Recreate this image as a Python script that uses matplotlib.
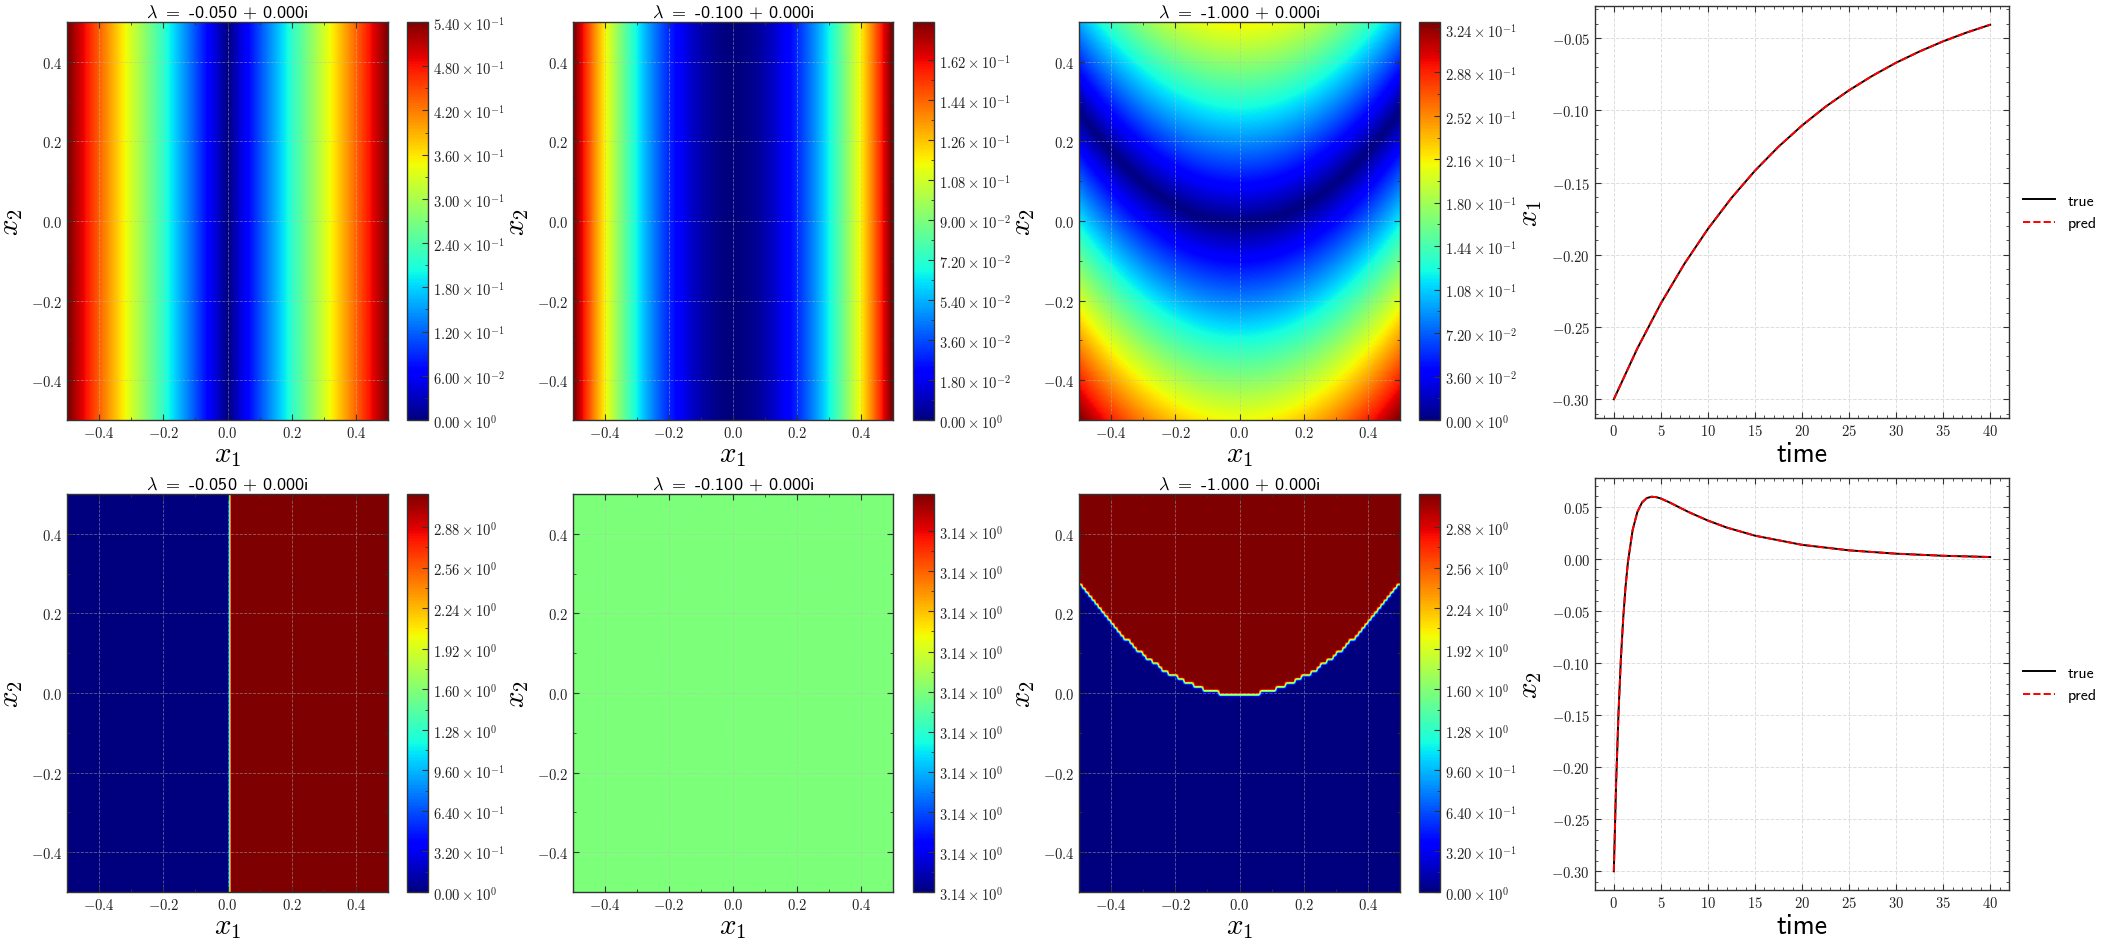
import numpy as np
import matplotlib
matplotlib.use("Agg")
import matplotlib.pyplot as plt
from matplotlib.ticker import FuncFormatter, MultipleLocator, AutoMinorLocator, FixedLocator

plt.rcParams['font.family'] = ['cmss10', 'DejaVu Sans']
plt.rcParams['mathtext.fontset'] = 'cm'
plt.rcParams['axes.unicode_minus'] = False

# --------------------------
# Data
# --------------------------
eig_re = [-0.05, -0.10, -1.00]
eig_im = [0.0, 0.0, 0.0]

# eigenfunction amplitudes: phi1 = a1*x1, phi2 = a2*x1^2, phi3 = a3*(x2 - b*x1^2 + c0)
phi_amp = [-1.08, -0.716, -0.424]
parab_b = 1.11
parab_c0 = 0.004

# colorbar ranges / tick steps
mag_vmax = [0.54, 0.179, 0.3297]
mag_step = [0.06, 0.018, 0.036]
phase_step = [0.32, 1e-7, 0.32]

# trajectory, true vs predicted
t_x1 = [0, 2.5, 5, 7.5, 10, 12.5, 15, 17.5, 20, 22.5, 25, 27.5, 30, 32.5, 35, 37.5, 40]
x1_true = [-0.300, -0.2648, -0.2336, -0.2062, -0.1820, -0.1606, -0.1417, -0.1251, -0.1104,
           -0.0974, -0.0860, -0.0759, -0.0669, -0.0591, -0.0521, -0.0460, -0.0406]
x1_pred = x1_true

t_x2 = [0, 0.25, 0.5, 0.75, 1, 1.25, 1.5, 2, 2.5, 3, 3.5, 4, 4.5, 5, 6, 7, 8, 10, 12, 15,
        20, 25, 30, 35, 40]
x2_true = [-0.300, -0.2140, -0.1475, -0.0962, -0.0567, -0.0264, -0.0032, 0.0277, 0.0450,
           0.0542, 0.0584, 0.0597, 0.0593, 0.0580, 0.0539, 0.0493, 0.0448, 0.0368, 0.0301,
           0.0223, 0.0135, 0.0082, 0.0050, 0.0030, 0.0018]
x2_pred = x2_true

# --------------------------
# Grid + eigenfunctions
# --------------------------
g = np.linspace(-0.5, 0.5, 101)
X1, X2 = np.meshgrid(g, g)
phis = [phi_amp[0] * X1,
        phi_amp[1] * X1 ** 2,
        phi_amp[2] * (X2 - parab_b * X1 ** 2 + parab_c0)]

W, H = 2104, 945
fig = plt.figure(figsize=(W / 100, H / 100), dpi=100)


def rect(x0, y0, x1, y1):
    return [x0 / W, 1 - y1 / H, (x1 - x0) / W, (y1 - y0) / H]


hm_x = [(67, 388), (573, 893), (1079, 1400)]
cb_x = [(407, 428), (913, 934), (1419, 1440)]
row_y = [(23, 421), (495, 893)]
ts_x = (1595, 2009)
ts_y = [(7, 419), (479, 891)]

SPINE = '#333333'


def mathfmt(fmt):
    def f(v, p):
        if abs(v) < 1e-12:
            v = 0.0
        return "$" + (fmt % v) + "$"
    return FuncFormatter(f)


def sci(v, p):
    if abs(v) < 1e-15:
        return r"$0.00\times10^{0}$"
    e = int(np.floor(np.log10(abs(v))))
    m = v / 10 ** e
    return r"$%.2f\times10^{%d}$" % (m, e)


def style_axes(ax):
    for s in ax.spines.values():
        s.set_color(SPINE)
        s.set_linewidth(1.0)
    ax.tick_params(which='both', direction='in', top=True, right=True, colors=SPINE,
                   labelcolor='#222222', labelsize=10.5)
    ax.tick_params(which='major', length=4, width=0.8)
    ax.tick_params(which='minor', length=2, width=0.6)


for r in range(2):
    for c in range(3):
        ax = fig.add_axes(rect(hm_x[c][0], row_y[r][0], hm_x[c][1], row_y[r][1]))
        if r == 0:
            data = np.abs(phis[c])
            vmin, vmax = 0.0, mag_vmax[c]
            ticks = np.arange(0, vmax + 1e-9, mag_step[c])
        else:
            data = np.angle(phis[c] + 0j)
            if c == 1:
                data = np.full_like(X1, np.pi)
                vmin = np.pi - 4.965 * phase_step[c]
                vmax = np.pi + 4.965 * phase_step[c]
                ticks = vmin + phase_step[c] * np.arange(10)
            else:
                vmin, vmax = 0.0, np.pi
                ticks = np.arange(0, vmax, phase_step[c])
        im = ax.imshow(data, extent=[-0.5, 0.5, -0.5, 0.5], origin='lower', aspect='auto',
                       cmap='jet', vmin=vmin, vmax=vmax, interpolation='bilinear')
        style_axes(ax)
        ax.set_xticks([-0.4, -0.2, 0.0, 0.2, 0.4])
        ax.set_yticks([-0.4, -0.2, 0.0, 0.2, 0.4])
        ax.xaxis.set_minor_locator(MultipleLocator(0.1))
        ax.yaxis.set_minor_locator(MultipleLocator(0.1))
        ax.xaxis.set_major_formatter(mathfmt("%.1f"))
        ax.yaxis.set_major_formatter(mathfmt("%.1f"))
        ax.grid(True, which='major', color='#bbbbbb', linestyle='--', linewidth=0.6, alpha=0.5)
        ax.set_xlabel(r"$x_1$", fontsize=21, labelpad=1)
        ax.set_ylabel(r"$x_2$", fontsize=21, labelpad=4)
        ax.set_title(r"$\lambda$ $=$ %.3f $+$ %.3fi" % (eig_re[c], eig_im[c]), fontsize=13, pad=4)

        cax = fig.add_axes(rect(cb_x[c][0], row_y[r][0], cb_x[c][1], row_y[r][1]))
        cb = fig.colorbar(im, cax=cax)
        cb.outline.set_edgecolor(SPINE)
        cb.outline.set_linewidth(1.0)
        cb.set_ticks(ticks)
        cb.ax.yaxis.set_major_formatter(FuncFormatter(sci))
        step = ticks[1] - ticks[0]
        cb.ax.yaxis.set_minor_locator(FixedLocator(ticks + step / 2))
        cb.ax.tick_params(which='both', direction='in', colors=SPINE, labelcolor='#222222',
                          labelsize=10.5)
        cb.ax.tick_params(which='major', length=4, width=0.8)
        cb.ax.tick_params(which='minor', length=2, width=0.6)

# --------------------------
# Trajectories
# --------------------------
series = [(t_x1, x1_true, x1_pred, r"$x_1$"), (t_x2, x2_true, x2_pred, r"$x_2$")]
for r, (t, yt, yp, lab) in enumerate(series):
    ax = fig.add_axes(rect(ts_x[0], ts_y[r][0], ts_x[1], ts_y[r][1]))
    ax.plot(t, yt, color='black', linewidth=1.4, label='true')
    ax.plot(t, yp, color='red', linestyle='--', linewidth=1.4, label='pred')
    style_axes(ax)
    ax.xaxis.set_major_locator(MultipleLocator(5))
    ax.yaxis.set_major_locator(MultipleLocator(0.05))
    ax.xaxis.set_minor_locator(AutoMinorLocator())
    ax.yaxis.set_minor_locator(AutoMinorLocator())
    ax.xaxis.set_major_formatter(mathfmt("%d"))
    ax.yaxis.set_major_formatter(mathfmt("%.2f"))
    ax.grid(True, which='major', color='#dddddd', linestyle='--', linewidth=0.7)
    ax.set_xlabel("time", fontsize=20, labelpad=2)
    ax.set_ylabel(lab, fontsize=21, labelpad=5)
    ax.legend(loc='center left', bbox_to_anchor=(1.0, 0.5), frameon=False, fontsize=11.5)

plt.savefig("out.png", dpi=100)
